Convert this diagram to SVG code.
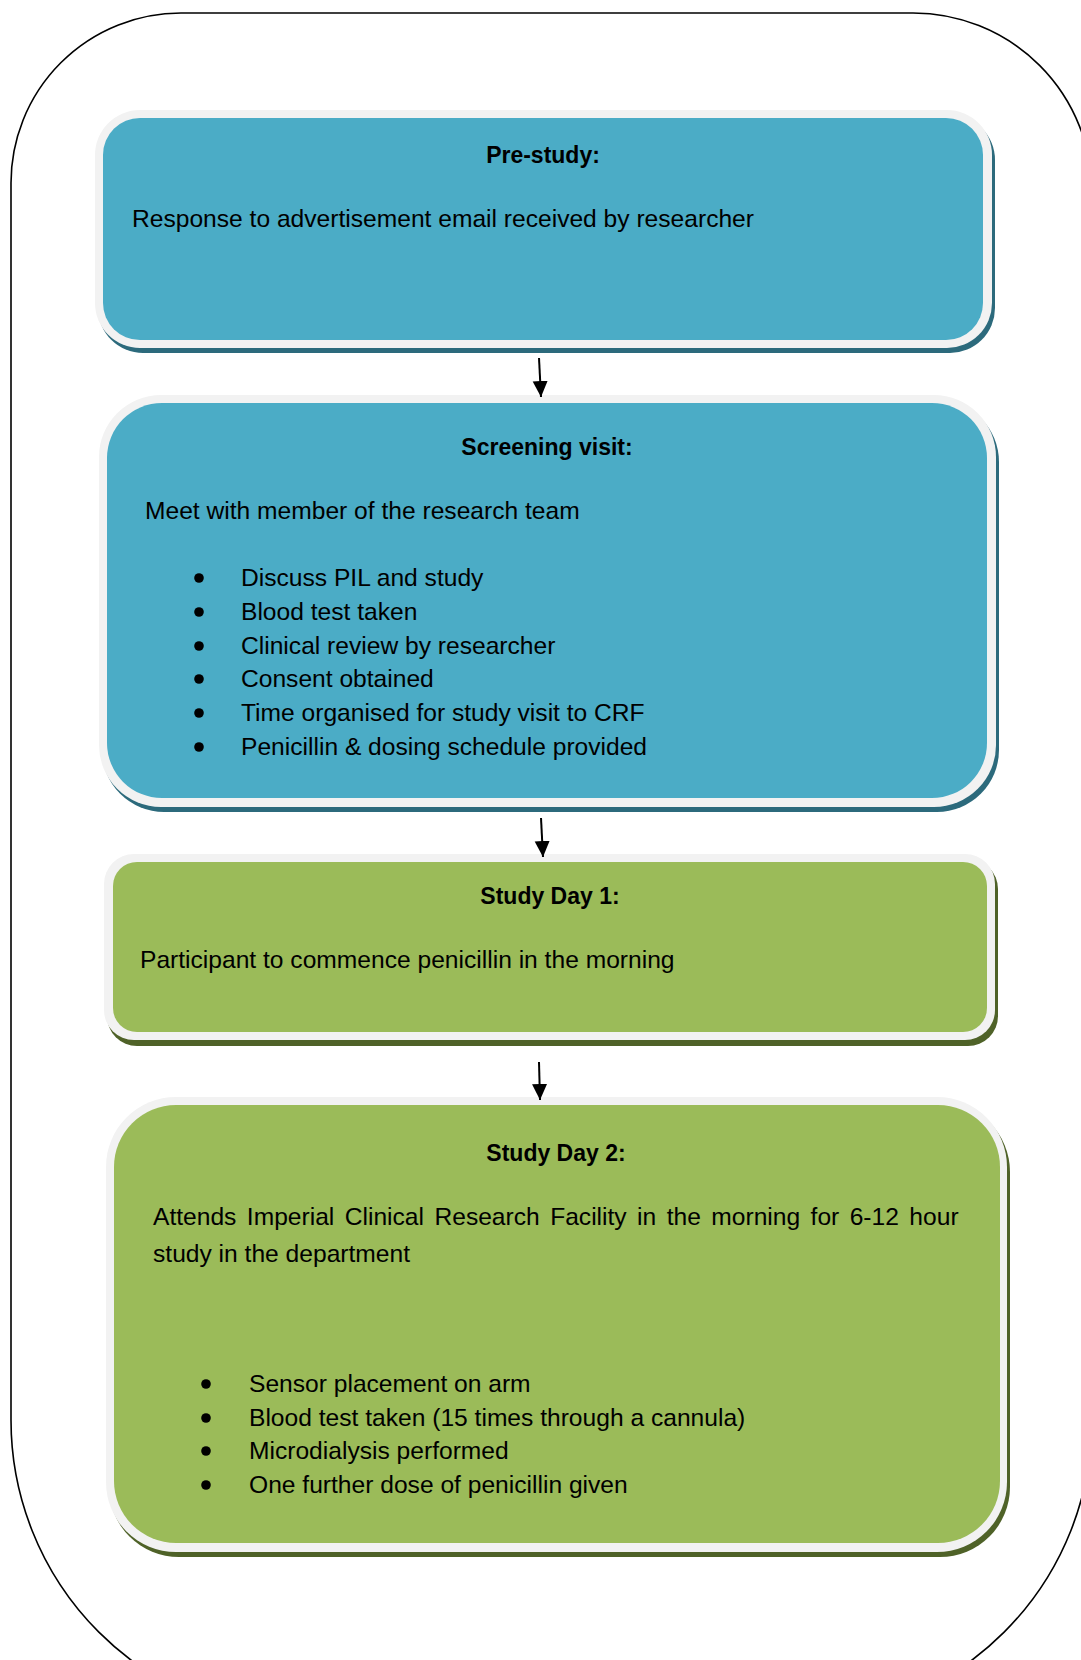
<svg xmlns="http://www.w3.org/2000/svg" width="1081" height="1660" viewBox="0 0 1081 1660">
<defs>
<marker id="arr" viewBox="0 0 10 10" refX="10" refY="5" markerWidth="16" markerHeight="16" markerUnits="userSpaceOnUse" orient="auto">
<path d="M0,0.3 L10,5 L0,9.7 Z" fill="#000"/>
</marker>
<style>
.frame{fill:none;stroke:#000;stroke-width:1.6}
.rim{fill:#f2f2f2}
.blue{fill:#4bacc6}
.blueSh{fill:#2c6a7c}
.green{fill:#9bbb59}
.greenSh{fill:#4f6228}
.t{font-family:"Liberation Sans",Arial,sans-serif;font-size:24.6px;fill:#000}
.h{font-family:"Liberation Sans",Arial,sans-serif;font-size:23px;font-weight:bold;fill:#000;text-anchor:middle}
.b{fill:#000}
.conn{stroke:#000;stroke-width:2;fill:none}
</style>
</defs>
<rect width="1081" height="1660" fill="#fff"/>
<path class="frame" d="M181,13 H913 A179,179 0 0 1 1092,192 V1420 A300,300 0 0 1 792,1720 H311 A300,300 0 0 1 11,1420 V183 A170,170 0 0 1 181,13 Z"/>

<g id="pre-study">
<rect class="blueSh" x="98" y="115" width="897" height="238" rx="45"/>
<rect class="rim" x="95" y="110" width="897" height="238" rx="45"/>
<rect class="blue" x="103" y="118" width="880" height="222" rx="37"/>
<text class="h" x="543" y="163">Pre-study:</text>
<text class="t" x="132" y="227">Response to advertisement email received by researcher</text>
</g>

<g id="screening-visit">
<rect class="blueSh" x="102" y="400" width="897" height="412" rx="62"/>
<rect class="rim" x="99" y="395" width="897" height="412" rx="62"/>
<rect class="blue" x="107" y="403" width="880" height="395" rx="55"/>
<text class="h" x="547" y="455">Screening visit:</text>
<text class="t" x="145" y="519">Meet with member of the research team</text>
<circle class="b" cx="199" cy="578" r="4.8"/>
<circle class="b" cx="199" cy="612" r="4.8"/>
<circle class="b" cx="199" cy="646" r="4.8"/>
<circle class="b" cx="199" cy="679" r="4.8"/>
<circle class="b" cx="199" cy="713" r="4.8"/>
<circle class="b" cx="199" cy="747" r="4.8"/>
<text class="t" x="241" y="586">Discuss PIL and study</text>
<text class="t" x="241" y="620">Blood test taken</text>
<text class="t" x="241" y="654">Clinical review by researcher</text>
<text class="t" x="241" y="687">Consent obtained</text>
<text class="t" x="241" y="721">Time organised for study visit to CRF</text>
<text class="t" x="241" y="755">Penicillin &amp; dosing schedule provided</text>
</g>

<g id="study-day-1">
<rect class="greenSh" x="107" y="859" width="891" height="187" rx="30"/>
<rect class="rim" x="104" y="854" width="891" height="186" rx="30"/>
<rect class="green" x="113" y="862" width="874" height="170" rx="24"/>
<text class="h" x="550" y="904">Study Day 1:</text>
<text class="t" x="140" y="968">Participant to commence penicillin in the morning</text>
</g>

<g id="study-day-2">
<rect class="greenSh" x="109" y="1102" width="901" height="455" rx="70"/>
<rect class="rim" x="106" y="1097" width="901" height="455" rx="70"/>
<rect class="green" x="114" y="1105" width="886" height="438" rx="62"/>
<text class="h" x="556" y="1161">Study Day 2:</text>
<text class="t" x="153" y="1225" word-spacing="3.6">Attends Imperial Clinical Research Facility in the morning for 6-12 hour</text>
<text class="t" x="153" y="1262">study in the department</text>
<circle class="b" cx="206" cy="1384" r="4.8"/>
<circle class="b" cx="206" cy="1418" r="4.8"/>
<circle class="b" cx="206" cy="1451" r="4.8"/>
<circle class="b" cx="206" cy="1485" r="4.8"/>
<text class="t" x="249" y="1392">Sensor placement on arm</text>
<text class="t" x="249" y="1426">Blood test taken (15 times through a cannula)</text>
<text class="t" x="249" y="1459">Microdialysis performed</text>
<text class="t" x="249" y="1493">One further dose of penicillin given</text>
</g>

<g id="connectors">
<line class="conn" x1="539" y1="358" x2="541" y2="397" marker-end="url(#arr)"/>
<line class="conn" x1="541" y1="818" x2="543" y2="857" marker-end="url(#arr)"/>
<line class="conn" x1="539" y1="1062" x2="540" y2="1100" marker-end="url(#arr)"/>
</g>
</svg>
